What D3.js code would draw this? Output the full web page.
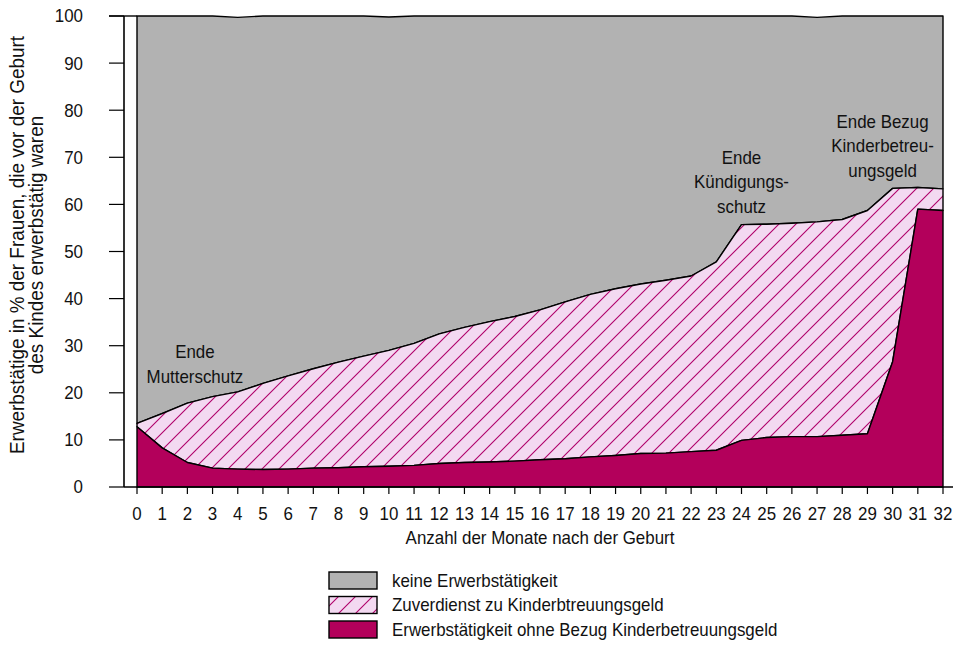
<!DOCTYPE html>
<html><head><meta charset="utf-8">
<script src="https://cdn.jsdelivr.net/npm/d3@7"></script>
<style>
body{margin:0;background:#fff;}
text{font-family:"Liberation Sans Narrow","Arial Narrow","Liberation Sans",Arial,sans-serif;fill:#111;}
</style></head>
<body><svg id="c" width="953" height="653"></svg>
<script>
const months = d3.range(0, 33);
const yTicks = [0,10,20,30,40,50,60,70,80,90,100];
const ohneBezug = [12.8,8.3,5.2,4.0,3.8,3.7,3.8,4.0,4.1,4.3,4.4,4.6,5.0,5.2,5.3,5.5,5.8,6.0,6.4,6.7,7.1,7.2,7.5,7.8,9.9,10.5,10.7,10.7,11.0,11.3,26.6,59.0,58.7];
const zuverdienst = [0.7,7.3,12.6,15.2,16.4,18.3,19.8,21.1,22.4,23.5,24.6,25.9,27.5,28.7,29.8,30.7,31.8,33.3,34.5,35.4,36.0,36.7,37.3,40.0,45.8,45.3,45.3,45.6,45.8,47.4,36.8,4.6,4.6];
const keine = [86.5,84.4,82.2,80.8,79.5,78.0,76.4,74.9,73.5,72.2,70.8,69.5,67.5,66.1,64.9,63.8,62.4,60.7,59.1,57.9,56.9,56.1,55.2,52.2,44.3,44.2,44.0,43.4,43.2,41.3,36.6,36.4,36.7];
const seriesKeys = ["ohne","zuverdienst","keine"];
const legendLabels = ["keine Erwerbstätigkeit","Zuverdienst zu Kinderbtreuungsgeld","Erwerbstätigkeit ohne Bezug Kinderbetreuungsgeld"];
const yTitle = ["Erwerbstätige in % der Frauen, die vor der Geburt","des Kindes erwerbstätig waren"];
const xTitle = "Anzahl der Monate nach der Geburt";
const annotations = [
  {m:2.3, v:27.3, lines:["Ende","Mutterschutz"]},
  {m:24, v:68.6, lines:["Ende","Kündigungs-","schutz"]},
  {m:29.6, v:76.3, lines:["Ende Bezug","Kinderbetreu-","ungsgeld"]}
];

const FS = 18, SX = 0.94;
const svg = d3.select("#c");
const x = d3.scaleLinear().domain([0,32]).range([137,943]);
const y = d3.scaleLinear().domain([0,100]).range([487,16]);

function txt(parent, px, py, s, anchor, dy, fs, sx){
  return parent.append("text")
    .attr("transform",`translate(${px},${py}) scale(${sx||SX},1)`)
    .attr("text-anchor",anchor||"start").attr("dy",dy||0)
    .attr("font-size",fs||FS).text(s);
}

const defs = svg.append("defs");
const P = 17;
const pat = defs.append("pattern").attr("id","hatch").attr("patternUnits","userSpaceOnUse")
  .attr("width",P).attr("height",P);
pat.append("rect").attr("width",P).attr("height",P).attr("fill","#f3d9f1");
pat.append("path").attr("d",`M0,${P} L${P},0 M-4,4 L4,-4 M${P-4},${P+4} L${P+4},${P-4}`)
  .attr("stroke","#b0006a").attr("stroke-width",1.1);

const colors = {ohne:"#b3005b", zuverdienst:"url(#hatch)", keine:"#b2b2b2"};
const data = months.map((m,i)=>({m, ohne:ohneBezug[i], zuverdienst:zuverdienst[i], keine:keine[i]}));
const stack = d3.stack().keys(seriesKeys)(data);
const area = d3.area().x(d=>x(d.data.m)).y0(d=>y(d[0])).y1(d=>y(d[1]));

svg.append("g").selectAll("path").data(stack.slice().reverse()).join("path")
  .attr("d",area).attr("fill",d=>colors[d.key]).attr("stroke","#000").attr("stroke-width",1.4)
  .attr("stroke-linejoin","round");

// y axis
const ya = svg.append("g");
ya.append("line").attr("x1",124).attr("x2",124).attr("y1",y(100)).attr("y2",y(0)).attr("stroke","#000").attr("stroke-width",1.6);
ya.selectAll("line.t").data(yTicks).join("line").attr("class","t")
  .attr("x1",109).attr("x2",124).attr("y1",d=>y(d)).attr("y2",d=>y(d)).attr("stroke","#000").attr("stroke-width",1.2);
yTicks.forEach(d=>txt(ya, 83, y(d), d, "end", "0.36em"));
svg.append("line").attr("x1",109).attr("x2",137).attr("y1",y(100)).attr("y2",y(100)).attr("stroke","#000").attr("stroke-width",1.4);

// x axis
const xa = svg.append("g");
xa.append("line").attr("x1",124).attr("x2",953).attr("y1",y(0)).attr("y2",y(0)).attr("stroke","#000").attr("stroke-width",1.6);
xa.selectAll("line.t").data(months).join("line").attr("class","t")
  .attr("x1",d=>x(d)).attr("x2",d=>x(d)).attr("y1",y(0)).attr("y2",y(0)+7).attr("stroke","#000").attr("stroke-width",1.2);
months.forEach(d=>txt(xa, x(d), 520, d, "middle"));
txt(svg, 540, 544, xTitle, "middle");

// y title
yTitle.forEach((t,i)=>{
  svg.append("text").attr("transform",`translate(${24+i*19},245) rotate(-90) scale(0.97,1)`)
    .attr("text-anchor","middle").attr("font-size",19.5).text(t);
});

// annotations
annotations.forEach(a=>{
  a.lines.forEach((l,i)=>txt(svg, x(a.m), y(a.v)+i*24.5, l, "middle"));
});

// legend
const lg = svg.append("g");
const legendFills = [colors.keine, colors.zuverdienst, colors.ohne];
legendLabels.forEach((l,i)=>{
  const yy = 572 + i*24.5;
  lg.append("rect").attr("x",329).attr("y",yy).attr("width",48).attr("height",17)
    .attr("fill",legendFills[i]).attr("stroke","#000").attr("stroke-width",1.4);
  txt(lg, 392, yy+8.5, l, "start", "0.36em");
});
</script></body></html>
